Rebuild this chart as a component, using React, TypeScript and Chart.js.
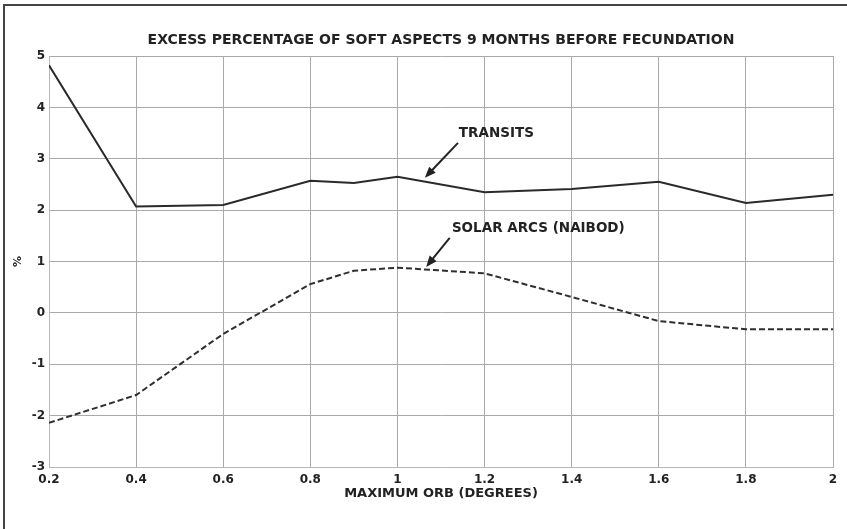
import React, { useEffect, useRef } from 'react';
import { Chart, registerables } from 'chart.js';

Chart.register(...registerables);

// ---- data ----
const orbDegrees = [0.2, 0.4, 0.6, 0.8, 0.9, 1.0, 1.2, 1.4, 1.6, 1.8, 2.0];
const transitsExcess = [4.82, 2.07, 2.1, 2.57, 2.53, 2.65, 2.35, 2.41, 2.55, 2.14, 2.3];
const solarArcsExcess = [-2.14, -1.6, -0.41, 0.56, 0.82, 0.88, 0.77, 0.31, -0.16, -0.32, -0.32];

const xTickValues = [0.2, 0.4, 0.6, 0.8, 1.0, 1.2, 1.4, 1.6, 1.8, 2.0];
const xTickLabels = ['0.2', '0.4', '0.6', '0.8', '1', '1.2', '1.4', '1.6', '1.8', '2'];
const yTickValues = [-3, -2, -1, 0, 1, 2, 3, 4, 5];
const yTickLabels = ['-3', '-2', '-1', '0', '1', '2', '3', '4', '5'];

const chartTitle = 'EXCESS PERCENTAGE OF SOFT ASPECTS 9 MONTHS BEFORE FECUNDATION';
const xAxisTitle = 'MAXIMUM ORB (DEGREES)';
const yAxisTitle = '%';

// annotations (in data coordinates)
const noteLabels = ['TRANSITS', 'SOLAR ARCS (NAIBOD)'];
const noteTextX = [1.141, 1.125];
const noteTextY = [3.5, 1.65];
const noteArrowFromX = [1.139, 1.12];
const noteArrowFromY = [3.31, 1.46];
const noteArrowToX = [1.063, 1.066];
const noteArrowToY = [2.63, 0.895];

const FONT = '"DejaVu Sans", "Liberation Sans", Arial, sans-serif';
const INK = '#222222';

const notesPlugin = {
  id: 'arrowNotes',
  afterDatasetsDraw(chart: any) {
    const { ctx, scales } = chart;
    const xs = scales.x;
    const ys = scales.y;
    ctx.save();
    ctx.font = `bold 13.5px ${FONT}`;
    ctx.fillStyle = INK;
    ctx.strokeStyle = INK;
    ctx.textAlign = 'left';
    ctx.textBaseline = 'middle';
    for (let i = 0; i < noteLabels.length; i++) {
      ctx.fillText(noteLabels[i], xs.getPixelForValue(noteTextX[i]), ys.getPixelForValue(noteTextY[i]));
      const fx = xs.getPixelForValue(noteArrowFromX[i]);
      const fy = ys.getPixelForValue(noteArrowFromY[i]);
      const tx = xs.getPixelForValue(noteArrowToX[i]);
      const ty = ys.getPixelForValue(noteArrowToY[i]);
      const dx = tx - fx;
      const dy = ty - fy;
      const len = Math.hypot(dx, dy);
      const ux = dx / len;
      const uy = dy / len;
      const head = 11;
      const half = 4.5;
      ctx.lineWidth = 2;
      ctx.beginPath();
      ctx.moveTo(fx, fy);
      ctx.lineTo(tx - ux * (head - 2), ty - uy * (head - 2));
      ctx.stroke();
      ctx.beginPath();
      ctx.moveTo(tx, ty);
      ctx.lineTo(tx - ux * head - uy * half, ty - uy * head + ux * half);
      ctx.lineTo(tx - ux * head + uy * half, ty - uy * head - ux * half);
      ctx.closePath();
      ctx.fill();
    }
    ctx.restore();
  },
};

export default function App() {
  const canvasRef = useRef<HTMLCanvasElement | null>(null);

  useEffect(() => {
    if (!canvasRef.current) return;
    const gridColor = '#a9a9a9';
    const chart = new Chart(canvasRef.current, {
      type: 'line',
      data: {
        datasets: [
          {
            label: 'TRANSITS',
            data: orbDegrees.map((x, i) => ({ x, y: transitsExcess[i] })),
            borderColor: '#2a2a2a',
            borderWidth: 2,
            pointRadius: 0,
            tension: 0,
            fill: false,
          },
          {
            label: 'SOLAR ARCS (NAIBOD)',
            data: orbDegrees.map((x, i) => ({ x, y: solarArcsExcess[i] })),
            borderColor: '#2f2f2f',
            borderWidth: 2,
            borderDash: [6, 3],
            pointRadius: 0,
            tension: 0,
            fill: false,
          },
        ],
      },
      options: {
        responsive: false,
        animation: false,
        devicePixelRatio: 1,
        layout: { padding: { left: 0, right: 14, top: 0, bottom: 0 } },
        plugins: {
          legend: { display: false },
          tooltip: { enabled: false },
          title: {
            display: true,
            text: chartTitle,
            fullSize: false,
            color: INK,
            font: { family: FONT, size: 14, weight: 'bold' },
            padding: { top: 31.6, bottom: 7.6 },
          },
        },
        scales: {
          x: {
            type: 'linear',
            min: 0.2,
            max: 2,
            afterBuildTicks: (scale: any) => {
              scale.ticks = xTickValues.map((v) => ({ value: v }));
            },
            afterFit: (scale: any) => {
              scale.height = 62;
            },
            ticks: {
              color: INK,
              font: { family: FONT, size: 12, weight: 'bold' },
              padding: 6,
              maxRotation: 0,
              autoSkip: false,
              callback: (_v: any, i: number) => xTickLabels[i],
            },
            grid: { color: gridColor, lineWidth: 1, drawTicks: false },
            border: { color: '#b8b8b8', width: 1 },
            title: {
              display: true,
              text: xAxisTitle,
              color: INK,
              font: { family: FONT, size: 13, weight: 'bold' },
              padding: { top: 0, bottom: 28 },
            },
          },
          y: {
            type: 'linear',
            min: -3,
            max: 5,
            afterBuildTicks: (scale: any) => {
              scale.ticks = yTickValues.map((v) => ({ value: v }));
            },
            afterFit: (scale: any) => {
              scale.width = 49;
            },
            ticks: {
              color: INK,
              font: { family: FONT, size: 12, weight: 'bold' },
              padding: 4,
              autoSkip: false,
              callback: (_v: any, i: number) => yTickLabels[i],
            },
            grid: { color: gridColor, lineWidth: 1, drawTicks: false },
            border: { color: '#b8b8b8', width: 1 },
            title: {
              display: true,
              text: yAxisTitle,
              color: INK,
              font: { family: FONT, size: 11, weight: 'bold' },
              padding: { top: 11.4, bottom: 0 },
            },
          },
        },
      },
      plugins: [notesPlugin],
    });
    return () => chart.destroy();
  }, []);

  return (
    <div style={{ position: 'fixed', left: 0, top: 0, width: 847, height: 529, background: '#ffffff' }}>
      <canvas ref={canvasRef} width={847} height={529} style={{ display: 'block', width: 847, height: 529 }} />
      <div
        style={{
          position: 'absolute',
          left: 3,
          top: 4,
          width: 844,
          height: 525,
          borderLeft: '2px solid #444',
          borderTop: '2px solid #444',
          boxSizing: 'border-box',
          pointerEvents: 'none',
        }}
      />
    </div>
  );
}
